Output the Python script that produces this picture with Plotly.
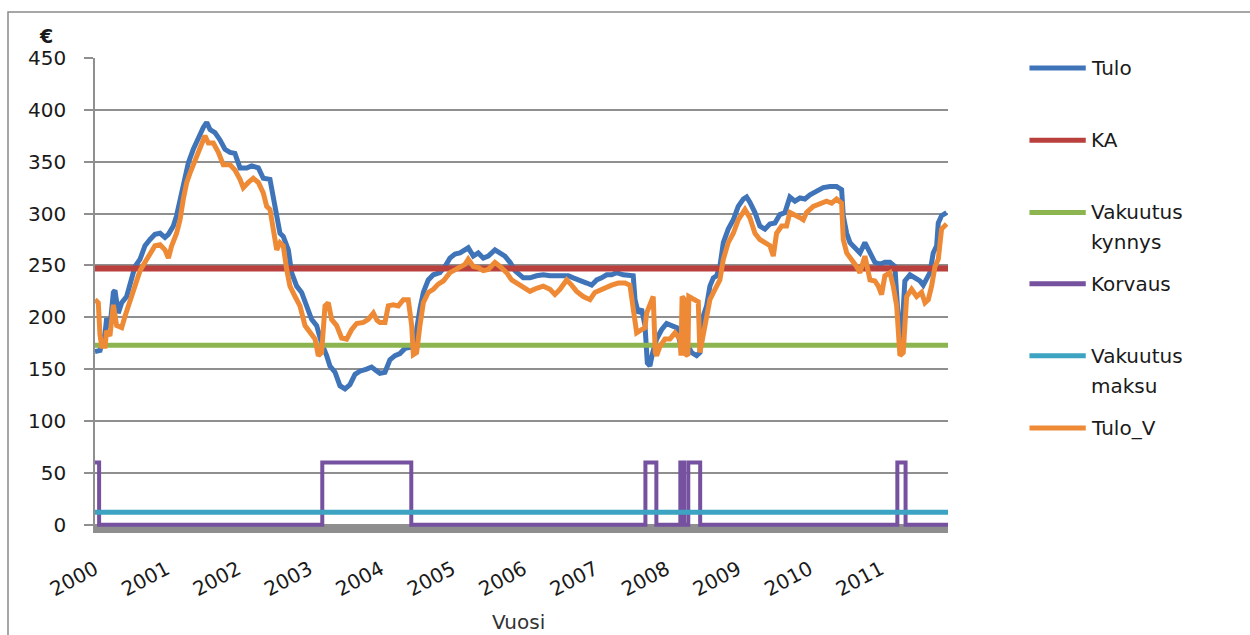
import plotly.graph_objects as go

# Viikkoaineisto: viikko (alkaen 2000 alusta) ja arvo euroina
viikot_tulo = [
    0, 3.7, 6.1, 7.3, 8.5, 10.9, 13.4, 14.6, 17.0, 19.5, 23.1, 26.8, 29.2, 32.9, 36.5, 40.2,
    43.8, 47.5, 51.1, 53.6, 57.2, 59.6, 62.1, 64.5, 68.2, 71.8, 75.5, 79.1, 81.6, 84.0, 87.6,
    91.3, 94.9, 98.6, 102.2, 105.9, 110.8, 114.4, 119.3, 122.9, 127.8, 130.2, 132.7, 135.1,
    137.5, 141.2, 143.6, 147.3, 150.9, 154.6, 158.2, 161.9, 165.5, 169.2, 171.6, 175.3, 178.9,
    182.6, 186.2, 189.9, 193.5, 198.4, 202.0, 205.0, 208.1, 211.8, 215.4, 219.1, 222.7, 226.4,
    230.0, 232.5, 234.9, 237.3, 239.8, 243.4, 247.1, 251.9, 255.6, 259.2, 262.9, 266.6, 270.2,
    272.6, 276.3, 279.9, 283.6, 287.2, 292.1, 295.8, 299.4, 303.1, 306.7, 312.8, 317.7, 322.5,
    327.4, 332.3, 337.2, 342.0, 345.7, 349.3, 354.2, 359.1, 362.7, 366.4, 370.0, 373.7, 377.3,
    381.0, 385.8, 390.7, 393.1, 394.4, 396.8, 399.2, 401.7, 403.4, 405.3, 407.3, 409.0, 410.2,
    413.8, 417.5, 421.1, 424.8, 427.2, 429.6, 432.1, 433.3, 435.7, 439.4, 441.8, 444.2, 446.7,
    449.1, 451.6, 454.0, 456.4, 458.9, 462.5, 466.2, 469.8, 473.5, 475.9, 478.3, 482.0, 485.6,
    489.3, 492.9, 496.6, 500.2, 503.9, 507.5, 511.2, 514.9, 518.5, 522.2, 527.0, 531.9, 536.8,
    541.6, 545.3, 546.5, 549.0, 551.4, 555.0, 558.7, 562.3, 566.0, 569.6, 573.3, 576.9, 580.6,
    584.2, 585.5, 587.9, 589.1, 590.3, 591.5, 595.2, 598.8, 602.5, 604.9, 607.4, 609.8, 612.2,
    614.7, 615.9, 618.3, 622.0,
]
tulo = [
    167, 168, 180, 184, 199, 190, 224, 226, 204, 214, 220, 236, 249, 256, 269, 275,
    280, 281, 277, 280, 288, 298, 314, 330, 349, 362, 373, 383, 388, 381, 378,
    371, 362, 359, 358, 344, 344, 346, 344, 334, 333, 314, 298, 281,
    278, 265, 243, 230, 224, 211, 198, 192, 175, 163, 153, 147, 134,
    131, 135, 145, 148, 150, 152, 149, 146, 147, 159, 163, 165, 170,
    171, 175, 188, 208, 224, 236, 241, 243, 249, 257, 261, 262, 265,
    267, 259, 262, 257, 259, 265, 262, 259, 253, 245, 238, 238, 240,
    241, 240, 240, 241, 240, 238, 236, 233, 231, 236, 238, 241, 241,
    243, 241, 241, 240, 217, 204, 208, 192, 156, 153, 166, 172, 179,
    188, 194, 192, 190, 176, 172, 175, 172, 166, 163, 166, 201, 211,
    230, 238, 240, 249, 272, 285, 294, 307, 314, 316, 311, 301, 288,
    285, 290, 291, 299, 301, 316, 312, 315, 314, 318, 322, 325, 326,
    326, 323, 298, 281, 272, 267, 262, 272, 262, 253, 251, 253, 253,
    249, 222, 176, 180, 205, 235, 241, 238, 235, 231, 236, 243, 262,
    269, 291, 298, 301,
]

viikot_tulo_v = [
    0, 2.4, 3.65, 4.9, 7.3, 8.5, 10.9, 13.4, 15.8, 19.5, 21.9, 25.6, 29.2, 32.9, 36.5, 40.2,
    43.8, 47.5, 51.1, 53.6, 56.0, 59.6, 62.1, 64.5, 67.0, 69.4, 73.0, 76.7, 80.3, 82.8, 86.4,
    90.1, 93.7, 98.6, 102.2, 105.9, 108.3, 112.0, 115.6, 119.3, 122.9, 125.4, 127.8, 130.2,
    132.7, 135.1, 137.5, 140.0, 142.4, 146.1, 149.7, 153.4, 157.0, 160.7, 163.1, 165.5, 168.0,
    170.4, 172.8, 176.5, 180.1, 183.8, 187.4, 191.1, 196.0, 199.6, 203.3, 206.0, 208.1, 211.8,
    214.2, 217.9, 221.5, 225.2, 228.8, 231.3, 232.5, 234.9, 237.3, 239.8, 243.4, 247.1, 250.7,
    254.4, 259.2, 262.9, 266.6, 270.2, 272.6, 276.3, 279.9, 283.6, 287.2, 292.1, 295.8, 300.6,
    304.3, 307.9, 312.8, 317.7, 322.5, 327.4, 332.3, 335.9, 339.6, 344.5, 348.1, 351.8, 356.6,
    361.5, 365.1, 370.0, 373.7, 377.3, 382.2, 387.1, 390.7, 393.1, 395.6, 399.2, 401.7, 402.9,
    405.3, 407.7, 409.2, 410.2, 412.6, 416.3, 419.9, 423.6, 427.2, 428.0, 428.8, 430.0, 430.7,
    433.0, 433.7, 436.9, 440.6, 441.8, 444.2, 446.7, 449.1, 452.8, 456.4, 458.9, 462.5, 466.2,
    469.8, 474.7, 478.3, 482.0, 485.6, 489.3, 492.9, 495.4, 497.8, 501.5, 505.1, 507.5, 511.2,
    514.9, 517.3, 519.7, 524.6, 529.5, 534.3, 538.0, 541.6, 545.3, 546.5, 549.0, 552.6, 556.2,
    558.7, 562.3, 566.0, 569.6, 572.1, 574.5, 576.9, 580.6, 583.0, 585.5, 587.9, 590.3, 592.8,
    596.4, 600.1, 603.7, 606.2, 608.6, 611.0, 613.5, 615.9, 618.3, 622.0,
]
tulo_v = [
    217, 214, 183, 172, 172, 187, 182, 212, 192, 190, 201, 217, 233, 245, 253, 262,
    269, 270, 265, 257, 269, 281, 294, 314, 330, 339, 352, 365, 375, 368, 368,
    359, 347, 347, 342, 333, 325, 330, 334, 330, 320, 307, 304, 285,
    265, 272, 269, 246, 230, 220, 211, 192, 185, 179, 163, 166, 211,
    214, 198, 192, 180, 179, 188, 194, 195, 198, 204, 197, 195, 195,
    211, 212, 211, 217, 217, 192, 164, 166, 192, 214, 224, 227, 232,
    235, 243, 246, 249, 251, 256, 249, 248, 245, 246, 253, 249, 243,
    236, 233, 228, 225, 228, 230, 227, 222, 227, 236, 231, 225, 220,
    217, 224, 227, 230, 231, 233, 233, 231, 211, 185, 188, 190, 204,
    211, 220, 166, 163, 172, 179, 179, 185, 179, 163, 220, 218, 165,
    163, 220, 217, 215, 166, 185, 201, 217, 227, 236, 256, 272, 281,
    294, 304, 296, 281, 275, 272, 269, 259, 281, 288, 288, 301, 299,
    296, 294, 301, 307, 310, 312, 310, 314, 310, 275, 262, 256, 249,
    243, 259, 236, 235, 230, 222, 240, 243, 230, 211, 163, 166, 220,
    227, 220, 224, 214, 217, 230, 249, 256, 285, 290,
]

# Korvaus maksetaan 60 euroa niinä viikkoina, kun tulo alittaa vakuutuskynnyksen
viikot_korvaus = [0, 3, 166, 231, 402, 410, 427.5, 430.2, 433.3, 442, 586, 592, 623]
korvaus = [60, 0, 60, 0, 60, 0, 60, 0, 60, 0, 60, 0, 0]

ka = 247
vakuutus_kynnys = 173
vakuutus_maksu = 12

vuodet = list(range(2000, 2012))
viikkoja_vuodessa = 52.18
viimeinen_viikko = 623

sininen = "#3F74B9"
punainen = "#B9403C"
vihrea = "#8DB54F"
violetti = "#7651A0"
turkoosi = "#3DA3C2"
oranssi = "#EE8A36"
harmaa = "#8E8E8E"
fontti = "DejaVu Sans"

fig = go.Figure()
alku_loppu = [0, viimeinen_viikko]

fig.add_trace(go.Scatter(x=viikot_tulo, y=tulo, mode="lines", name="Tulo",
                         line=dict(color=sininen, width=5)))
fig.add_trace(go.Scatter(x=alku_loppu, y=[ka, ka], mode="lines", name="KA",
                         line=dict(color=punainen, width=6)))
fig.add_trace(go.Scatter(x=alku_loppu, y=[vakuutus_kynnys] * 2, mode="lines",
                         name="Vakuutus kynnys", line=dict(color=vihrea, width=5)))
fig.add_trace(go.Scatter(x=viikot_korvaus, y=korvaus, mode="lines", name="Korvaus",
                         line=dict(color=violetti, width=4, shape="hv")))
fig.add_trace(go.Scatter(x=alku_loppu, y=[vakuutus_maksu] * 2, mode="lines",
                         name="Vakuutus maksu", line=dict(color=turkoosi, width=5)))
fig.add_trace(go.Scatter(x=viikot_tulo_v, y=tulo_v, mode="lines", name="Tulo_V",
                         line=dict(color=oranssi, width=5)))

shapes = [
    # vaaka-akselin harmaa pohja
    dict(type="rect", xref="x", yref="y", x0=0, x1=viimeinen_viikko, y0=-8, y1=0,
         fillcolor=harmaa, line=dict(width=0), layer="below"),
    # kaavion kehys
    dict(type="rect", xref="paper", yref="paper", x0=-0.102, x1=1.36, y0=-0.23, y1=1.097,
         line=dict(color="#8A8A8A", width=1.5), layer="below"),
]

# Selite oikealla
selite = [
    (["Tulo"], sininen, 0.979),
    (["KA"], punainen, 0.827),
    (["Vakuutus", "kynnys"], vihrea, 0.675),
    (["Korvaus"], violetti, 0.525),
    (["Vakuutus", "maksu"], turkoosi, 0.373),
    (["Tulo_V"], oranssi, 0.221),
]
annotations = []
for rivit, vari, yy in selite:
    shapes.append(dict(type="line", xref="paper", yref="paper", x0=1.0955, x1=1.1615,
                       y0=yy, y1=yy, line=dict(color=vari, width=5)))
    for i, rivi in enumerate(rivit):
        annotations.append(dict(text=rivi, xref="paper", yref="paper", x=1.1655,
                                y=yy - i * 0.063, xanchor="left", yanchor="middle",
                                showarrow=False, font=dict(family=fontti, size=20, color="#1a1a1a")))

annotations.append(dict(text="<b>€</b>", xref="paper", yref="paper", x=-0.058, y=1.046,
                        xanchor="center", yanchor="middle", showarrow=False,
                        font=dict(family=fontti, size=19, color="#1a1a1a")))
annotations.append(dict(text="Vuosi", xref="paper", yref="paper", x=0.496, y=-0.187,
                        xanchor="center", yanchor="middle", showarrow=False,
                        font=dict(family=fontti, size=20, color="#333333")))

fig.update_layout(
    width=1250, height=635,
    margin=dict(l=95, r=302, t=58, b=102),
    paper_bgcolor="white", plot_bgcolor="white",
    showlegend=False,
    shapes=shapes,
    annotations=annotations,
    font=dict(family=fontti, size=20, color="#1a1a1a"),
    xaxis=dict(
        range=[0, viimeinen_viikko],
        tickmode="array",
        tickvals=[viikkoja_vuodessa * i for i in range(len(vuodet))],
        ticktext=[str(v) for v in vuodet],
        tickangle=-28,
        showgrid=False, zeroline=False, showline=False, ticks="",
        ticklabelstandoff=20,
        tickfont=dict(family=fontti, size=20, color="#1a1a1a"),
    ),
    yaxis=dict(
        range=[-8, 450],
        tick0=0, dtick=50,
        showgrid=True, gridcolor="#8F8F8F", gridwidth=1.5,
        zeroline=False,
        showline=True, linecolor="#8F8F8F", linewidth=1.5,
        ticks="outside", ticklen=9, tickcolor="#8F8F8F", tickwidth=1.5,
        ticklabelstandoff=14,
        tickfont=dict(family=fontti, size=20, color="#1a1a1a"),
    ),
)

fig.write_html("out.html")
